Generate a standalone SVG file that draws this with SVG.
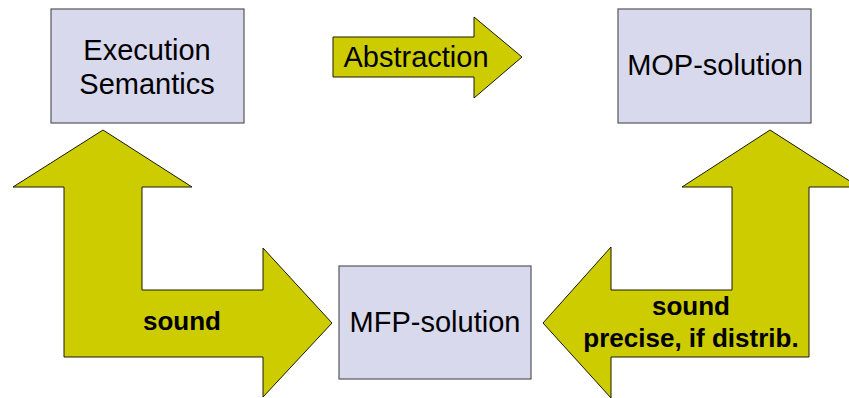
<svg xmlns="http://www.w3.org/2000/svg" width="849" height="398" viewBox="0 0 849 398">
<style>
.box{fill:#d9d9ed;stroke:#555;stroke-width:1.2}
.arrow{fill:#cccc00;stroke:#1a1a00;stroke-width:1}
.t{font-family:"Liberation Sans",Arial,sans-serif;font-size:29px;fill:#000;text-anchor:middle}
.b{font-family:"Liberation Sans",Arial,sans-serif;font-size:26px;font-weight:bold;fill:#000;text-anchor:middle}
</style>
<rect width="849" height="398" fill="#fff"/>
<g id="connectors">
  <g id="abstraction-arrow">
    <path class="arrow" d="M333,37 L474,37 L474,17 L522,57 L474,98 L474,77 L333,77 Z"/>
    <text class="t" x="416" y="67">Abstraction</text>
  </g>
  <g id="left-arrow">
    <path class="arrow" d="M103,130 L192,187 L142,187 L142,290 L263,290 L263,248 L332,323 L263,397 L263,357 L64,357 L64,187 L13,187 Z"/>
    <text class="b" x="182" y="330">sound</text>
  </g>
  <g id="right-arrow">
    <path class="arrow" d="M770,130 L859,187 L809,187 L809,357 L611,357 L611,398 L543,323 L611,247 L611,290 L732,290 L732,187 L682,187 Z"/>
    <text class="b" x="691" y="315">sound</text>
    <text class="b" x="691" y="347">precise, if distrib.</text>
  </g>
</g>
<g id="execution-semantics">
  <rect class="box" x="51" y="9" width="193" height="114"/>
  <text class="t" x="147" y="60">Execution</text>
  <text class="t" x="147" y="94">Semantics</text>
</g>
<g id="mop-solution">
  <rect class="box" x="618" y="9" width="193" height="114"/>
  <text class="t" x="715" y="75">MOP-solution</text>
</g>
<g id="mfp-solution">
  <rect class="box" x="339" y="266" width="192" height="113"/>
  <text class="t" x="435" y="332">MFP-solution</text>
</g>
</svg>
